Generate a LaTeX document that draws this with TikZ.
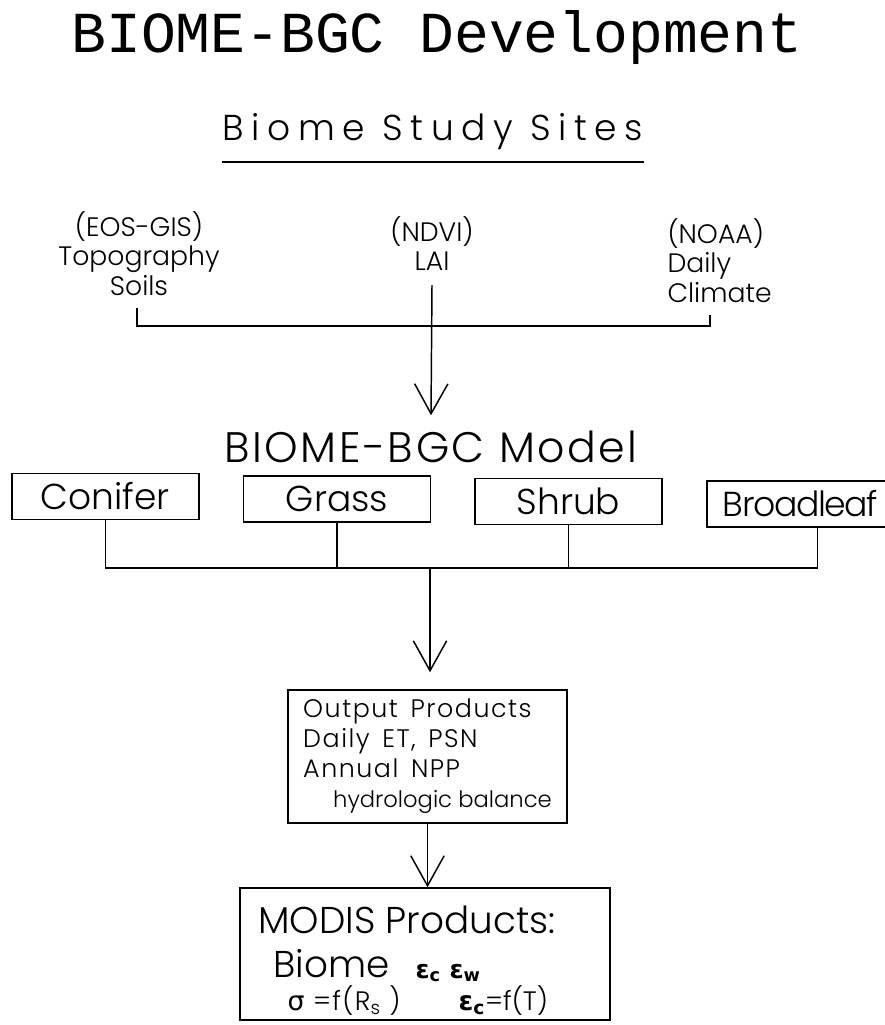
\documentclass[tikz,border=0pt]{standalone}
\usepackage{fontspec}
\setmainfont{Poppins}[UprightFont=* Light, BoldFont=* Medium]
\newfontfamily\plotterfont{Liberation Mono}
\newfontfamily\greekfont{DejaVu Sans}
\usetikzlibrary{arrows.meta}
\newcommand{\widespaces}{\spaceskip=0.5em\relax}

\tikzset{every picture/.style={line width=0.75pt}}
\tikzset{
  vegbox/.style={draw, line width=1.1pt, minimum width=140.25pt, minimum height=34.5pt, inner sep=0pt, font=\fontsize{27pt}{30pt}\selectfont},
  prodbox/.style={draw, line width=1.1pt, inner sep=0pt},
  flowline/.style={line width=1.1pt},
  flowarrow/.style={line width=1.1pt, -{Straight Barb[length=22.5pt,width=25pt,line width=1.1pt]}},
  plain/.style={inner sep=0pt},
  inputtext/.style={plain, font=\fontsize{20pt}{22pt}\selectfont}
}

\begin{document}
\begin{tikzpicture}[x=0.75pt,y=0.75pt,yscale=-1,xscale=1]
\useasboundingbox (0,0) rectangle (885,1025);

% Titles
\node (title) at (437,52) [plain, anchor=base, font=\plotterfont\fontsize{43.5pt}{48pt}\selectfont] {BIOME-BGC Development};
\node (sites) at (433,140) [plain, anchor=base, font=\fontsize{27pt}{30pt}\selectfont\addfontfeatures{LetterSpace=21}] {Biome Study Sites};
\draw [flowline] ([yshift=16.5pt]sites.base west) -- ([yshift=16.5pt]sites.base east);

% Input data
\node (gis) at (139,211) [inputtext, anchor=north, align=center] {(EOS-GIS)\\Topography\\Soils};
\node (ndvi) at (432,216) [inputtext, anchor=north, align=center] {(NDVI)\\LAI};
\node (noaa) at (667,218) [inputtext, anchor=north west, align=left] {(NOAA)\\Daily\\Climate};
\coordinate (gisfoot) at (137,308);
\coordinate (noaafoot) at (710,315);
\coordinate (inbar) at (432,326);
\draw [flowline] (gisfoot) |- (inbar) -| (noaafoot);

% Model
\node (model) at (431,462) [plain, anchor=base, font=\fontsize{32pt}{36pt}\selectfont\addfontfeatures{LetterSpace=6}] {BIOME-BGC Model};
\draw [flowarrow] ([yshift=10.5pt]ndvi.south) -- ([yshift=-11pt]model.north);

\node [vegbox] (conifer) at (105.5,496.5) {Conifer};
\node [vegbox] (grass) at (337,499) {Grass};
\node [vegbox] (shrub) at (568.5,501.5) {Shrub};
\node [vegbox, font=\fontsize{26pt}{30pt}\selectfont\addfontfeatures{LetterSpace=-4}] (broadleaf) at (800.5,504) {Broadleaf};
\coordinate (vegbar) at (430,568);
\draw [flowline] (conifer.south) |- (vegbar) -| ([xshift=12.75pt]broadleaf.south);
\draw [flowline] (grass.south) -- (grass.south |- vegbar);
\draw [flowline] (shrub.south) -- (shrub.south |- vegbar);

% Output products
\node [prodbox, minimum width=209.25pt, minimum height=99.75pt, align=left, font=\fontsize{19pt}{22.5pt}\selectfont\addfontfeatures{LetterSpace=6}\widespaces] (output) at (427.5,756.5) {Output Products\\Daily ET, PSN\\Annual NPP\\\hspace*{22.5pt}{\fontsize{17pt}{22.5pt}\selectfont\addfontfeatures{LetterSpace=0}\spaceskip=0pt\relax hydrologic balance}};
\draw [flowarrow, shorten >=12.75pt] (vegbar) -- (vegbar |- output.north);

% MODIS products
\node [prodbox, minimum width=277.5pt, minimum height=99pt] (modis) at (425,954) {};
\draw [flowarrow] (output.south) -- (output.south |- modis.north);
\node (modistitle) at (258,933) [plain, anchor=base west, font=\fontsize{28pt}{30pt}\selectfont] {MODIS Products:};
\node (biome) at (273,977) [plain, anchor=base west, font=\fontsize{28pt}{30pt}\selectfont] {Biome};
\node (epsilon) at (415,978) [plain, anchor=base west, font=\greekfont\bfseries\fontsize{19pt}{20pt}\selectfont] {ε\textsubscript{c} ε\textsubscript{w}};
\node (sigma) at (287,1010) [plain, anchor=base west, font=\fontsize{20pt}{22pt}\selectfont\addfontfeatures{LetterSpace=5}] {{\greekfont σ} =f(R\textsubscript{s} )};
\node (epsfun) at (458,1010) [plain, anchor=base west, font=\fontsize{20pt}{22pt}\selectfont] {{\greekfont\bfseries ε\textsubscript{c}}=f(T)};

\end{tikzpicture}
\end{document}
